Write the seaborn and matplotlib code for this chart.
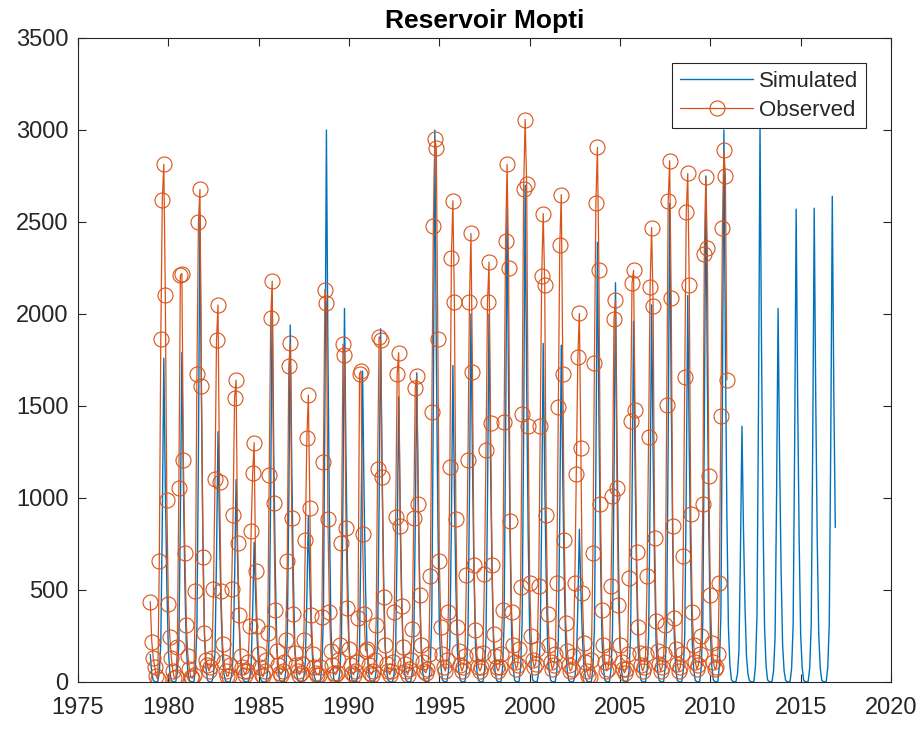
import numpy as np
import pandas as pd
import matplotlib
matplotlib.use("Agg")
import matplotlib.pyplot as plt
import seaborn as sns

# Monthly flows (Jan..Dec), one row per year
sim_start_year = 1979
simulated = [
    [150, 45, 8, 2, 0, 3, 53, 211, 880, 1760, 1056, 528],        # 1979
    [176, 53, 9, 2, 0, 4, 54, 215, 895, 1790, 1074, 537],        # 1980
    [179, 54, 8, 3, 0, 3, 76, 305, 1270, 2540, 1524, 762],       # 1981
    [254, 76, 10, 2, 0, 3, 41, 163, 680, 1360, 816, 408],        # 1982
    [136, 41, 7, 1, 0, 2, 33, 132, 550, 1100, 660, 330],         # 1983
    [110, 33, 6, 1, 0, 2, 23, 91, 380, 760, 456, 228],           # 1984
    [76, 23, 5, 1, 0, 3, 63, 252, 1050, 2100, 1260, 630],        # 1985
    [210, 63, 9, 2, 0, 3, 58, 233, 970, 1940, 1164, 582],        # 1986
    [194, 58, 8, 2, 0, 2, 27, 108, 450, 900, 540, 270],          # 1987
    [90, 27, 6, 1, 0, 4, 90, 360, 1500, 3000, 1800, 900],        # 1988
    [300, 90, 12, 3, 0, 3, 61, 244, 1015, 2030, 1218, 609],      # 1989
    [203, 61, 9, 2, 0, 3, 51, 203, 845, 1690, 1014, 507],        # 1990
    [169, 51, 8, 2, 0, 3, 58, 230, 960, 1920, 1152, 576],        # 1991
    [192, 58, 9, 2, 0, 3, 47, 186, 775, 1550, 930, 465],         # 1992
    [155, 47, 8, 2, 0, 3, 50, 202, 840, 1680, 1008, 504],        # 1993
    [168, 50, 8, 2, 0, 4, 90, 360, 1500, 3000, 1800, 900],       # 1994
    [300, 90, 12, 3, 0, 3, 52, 206, 860, 1720, 1032, 516],       # 1995
    [172, 52, 8, 2, 0, 3, 60, 240, 1000, 2000, 1200, 600],       # 1996
    [200, 60, 9, 2, 0, 3, 60, 240, 1000, 2000, 1200, 600],       # 1997
    [200, 60, 9, 2, 0, 4, 78, 312, 1300, 2600, 1560, 780],       # 1998
    [260, 78, 10, 2, 0, 4, 81, 324, 1350, 2700, 1620, 810],      # 1999
    [270, 81, 11, 3, 0, 3, 55, 221, 920, 1840, 1104, 552],       # 2000
    [184, 55, 8, 2, 0, 3, 55, 220, 915, 1830, 1098, 549],        # 2001
    [183, 55, 8, 2, 0, 2, 25, 100, 415, 830, 498, 249],          # 2002
    [83, 25, 5, 1, 0, 4, 72, 287, 1195, 2390, 1434, 717],        # 2003
    [239, 72, 10, 2, 0, 3, 65, 260, 1085, 2170, 1302, 651],      # 2004
    [217, 65, 9, 2, 0, 3, 59, 235, 980, 1960, 1176, 588],        # 2005
    [196, 59, 9, 2, 0, 3, 62, 246, 1025, 2050, 1230, 615],       # 2006
    [205, 62, 9, 2, 0, 4, 78, 312, 1300, 2600, 1560, 780],       # 2007
    [260, 78, 10, 2, 0, 3, 63, 252, 1050, 2100, 1260, 630],      # 2008
    [210, 63, 9, 2, 0, 4, 83, 330, 1375, 2750, 1650, 825],       # 2009
    [275, 83, 11, 3, 0, 4, 90, 360, 1500, 3000, 1800, 900],      # 2010
    [300, 90, 12, 3, 0, 2, 42, 167, 695, 1390, 834, 417],        # 2011
    [139, 42, 7, 2, 0, 4, 91, 362, 1510, 3020, 1812, 906],       # 2012
    [302, 91, 12, 3, 0, 3, 61, 244, 1015, 2030, 1218, 609],      # 2013
    [203, 61, 9, 2, 0, 4, 77, 308, 1285, 2570, 1542, 771],       # 2014
    [257, 77, 10, 2, 0, 4, 77, 309, 1288, 2575, 1545, 773],      # 2015
    [258, 77, 10, 2, 0, 4, 79, 317, 1320, 2640, 1584, 840],      # 2016
]

obs_start_year = 1979
observed = [
    [437, 220, 128, 82, 30, 15, 655, 1865, 2622, 2814, 2104, 988],      # 1979
    [426, 243, 130, 60, 20, 25, 190, 1056, 2210, 2220, 1205, 701],      # 1980
    [311, 140, 70, 25, 20, 40, 495, 1675, 2500, 2677, 1606, 678],       # 1981
    [265, 120, 90, 60, 80, 130, 506, 1102, 1858, 2049, 1086, 495],      # 1982
    [208, 110, 60, 30, 35, 90, 506, 907, 1544, 1641, 758, 362],         # 1983
    [140, 80, 60, 40, 60, 110, 307, 820, 1136, 1301, 602, 307],         # 1984
    [150, 80, 40, 30, 60, 120, 265, 1125, 1980, 2179, 971, 391],        # 1985
    [170, 90, 50, 40, 60, 110, 230, 660, 1716, 1842, 889, 369],         # 1986
    [160, 90, 60, 40, 50, 100, 230, 770, 1324, 1560, 948, 362],         # 1987
    [150, 80, 50, 40, 40, 80, 352, 1194, 2133, 2058, 884, 380],         # 1988
    [170, 90, 50, 40, 50, 120, 200, 758, 1836, 1778, 838, 403],         # 1989
    [180, 90, 50, 40, 60, 110, 346, 1675, 1690, 804, 369, 170],         # 1990
    [180, 90, 50, 40, 60, 120, 311, 1159, 1875, 1858, 1113, 460],       # 1991
    [200, 100, 60, 40, 60, 110, 380, 896, 1675, 1790, 850, 415],        # 1992
    [190, 100, 60, 40, 70, 120, 288, 889, 1599, 1664, 965, 472],        # 1993
    [200, 110, 60, 50, 70, 150, 575, 1469, 2477, 2952, 2901, 1865],     # 1994
    [655, 300, 150, 80, 60, 120, 380, 1171, 2305, 2615, 2065, 884],     # 1995
    [300, 170, 90, 60, 80, 140, 580, 1205, 2065, 2438, 1687, 637],      # 1996
    [280, 150, 80, 60, 80, 160, 586, 1262, 2065, 2282, 1407, 637],      # 1997
    [260, 140, 80, 60, 80, 150, 391, 1412, 2397, 2814, 2248, 873],      # 1998
    [380, 200, 110, 70, 90, 180, 518, 1457, 2677, 3057, 2706, 1389],    # 1999
    [540, 250, 120, 80, 100, 180, 522, 1389, 2207, 2546, 2156, 907],    # 2000
    [369, 200, 110, 70, 90, 150, 540, 1492, 2374, 2649, 1675, 770],     # 2001
    [320, 170, 90, 60, 70, 140, 540, 1132, 1767, 2003, 1274, 483],      # 2002
    [210, 110, 60, 30, 25, 120, 701, 1732, 2603, 2906, 2237, 965],      # 2003
    [390, 200, 110, 60, 70, 140, 522, 1010, 1973, 2076, 1056, 420],     # 2004
    [200, 110, 70, 50, 70, 150, 563, 1416, 2168, 2237, 1480, 706],      # 2005
    [300, 160, 90, 60, 80, 150, 575, 1331, 2145, 2470, 2042, 781],      # 2006
    [330, 170, 100, 60, 80, 150, 311, 1503, 2615, 2833, 2088, 850],     # 2007
    [350, 180, 100, 60, 80, 150, 683, 1659, 2553, 2764, 2156, 912],     # 2008
    [380, 200, 110, 70, 90, 150, 250, 965, 2324, 2745, 2356, 1118],     # 2009
    [472, 210, 110, 70, 80, 150, 540, 1446, 2470, 2890, 2752, 1641],    # 2010
]

x_ticks = [1975, 1980, 1985, 1990, 1995, 2000, 2005, 2010, 2015, 2020]
y_ticks = [0, 500, 1000, 1500, 2000, 2500, 3000, 3500]
title_text = "Reservoir Mopti"
series_names = ["Simulated", "Observed"]


def to_frame(rows, start_year):
    vals = np.asarray(rows, dtype=float)
    yrs = start_year + np.arange(vals.shape[0])
    t = (yrs[:, None] + np.arange(12)[None, :] / 12.0).ravel()
    return pd.DataFrame({"time": t, "flow": vals.ravel()})


sim_df = to_frame(simulated, sim_start_year)
obs_df = to_frame(observed, obs_start_year)

sns.set_style("white")
plt.rcParams["font.family"] = ["Liberation Sans", "DejaVu Sans"]

fig = plt.figure(figsize=(9.23, 7.29), dpi=100)
ax = fig.add_axes([78 / 923, 47 / 729, (891 - 78) / 923, (682 - 38) / 729])

blue = "#0072BD"
orange = "#D95319"

sns.lineplot(data=sim_df, x="time", y="flow", ax=ax, color=blue,
             linewidth=1.0, estimator=None, sort=False, label=series_names[0])
sns.lineplot(data=obs_df, x="time", y="flow", ax=ax, color=orange,
             linewidth=0.9, estimator=None, sort=False, marker="o",
             markersize=10.8, markerfacecolor="none", markeredgecolor=orange,
             markeredgewidth=0.8, label=series_names[1])

ax.set_xlim(1975, 2020)
ax.set_ylim(0, 3500)
ax.set_xticks(x_ticks)
ax.set_yticks(y_ticks)
ax.set_xlabel("")
ax.set_ylabel("")

dark = "#262626"
for s in ax.spines.values():
    s.set_visible(True)
    s.set_color(dark)
    s.set_linewidth(0.8)
ax.tick_params(axis="both", which="major", direction="in", length=5.8,
               width=0.8, color=dark, labelcolor=dark, labelsize=17,
               top=True, right=True, bottom=True, left=True)
ax.tick_params(axis="x", pad=11)
ax.tick_params(axis="y", pad=7)

ax.set_title(title_text, fontsize=19, fontweight="bold", color="black", pad=7)

leg = ax.legend(loc="upper right", bbox_to_anchor=(0.969, 0.961),
                borderaxespad=0, fontsize=16, frameon=True, fancybox=False,
                framealpha=1, edgecolor=dark, handlelength=3.3,
                handletextpad=0.25, borderpad=0.35, labelspacing=0.35)
leg.get_frame().set_linewidth(0.8)

fig.savefig("out.png", dpi=100, facecolor="white")
